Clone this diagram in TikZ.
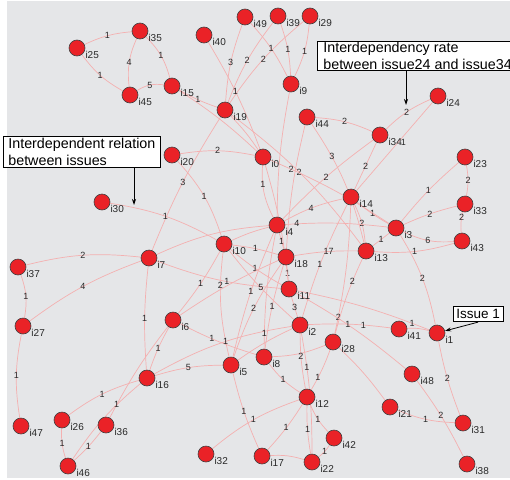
\documentclass[tikz,border=0pt]{standalone}
\usepackage{fontspec}
\setmainfont{Liberation Sans}
\usetikzlibrary{arrows.meta}
\definecolor{bgc}{RGB}{229,230,232}
\definecolor{nodered}{RGB}{234,34,39}
\definecolor{edgepink}{RGB}{244,176,176}
\definecolor{txt}{RGB}{40,40,40}
\pgfdeclarelayer{bglayer}
\pgfdeclarelayer{edgelayer}
\pgfsetlayers{bglayer,edgelayer,main}
\tikzset{
 iss/.style={circle, fill=nodered, draw=black!75, line width=0.6pt, minimum size=16pt, inner sep=0pt},
 nl/.style={font=\fontsize{10}{10}\selectfont, text=txt, inner sep=0.5pt},
 edge/.style={draw=edgepink, line width=0.7pt},
 el/.style={font=\fontsize{9}{9}\selectfont, text=txt, inner sep=0pt},
 callout/.style={draw=black, fill=white, line width=0.7pt, align=left, anchor=north west},
 pointer/.style={-{Stealth[length=6pt,width=4pt]}, line width=0.8pt, draw=black},
}
\newcommand\issnode[3]{\node[iss,label={[nl,label distance=0pt]-20:#1}] (#1) at (#2,#3) {};}
\newcommand\ed[5]{\draw[edge] (#1) to[#3] node[el,pos=#5]{#4} (#2);}
\begin{document}
\begin{tikzpicture}[x=1pt,y=-1pt]
\useasboundingbox (0,0) rectangle (510,479);
\clip (0,0) rectangle (510,479);
\begin{pgfonlayer}{bglayer}
\fill[bgc] (7,1) rectangle (510,478);
\end{pgfonlayer}
\issnode{i25}{77}{48}
\issnode{i35}{140}{31}
\issnode{i40}{204}{35}
\issnode{i49}{245}{17}
\issnode{i39}{278}{16}
\issnode{i29}{310}{16}
\issnode{i45}{130}{95}
\issnode{i15}{172}{86}
\issnode{i19}{225}{110}
\issnode{i9}{291}{84}
\issnode{i24}{438}{96}
\issnode{i44}{307}{117}
\issnode{i34}{380}{135}
\issnode{i20}{172}{155}
\issnode{i0}{263}{157}
\issnode{i23}{465}{157}
\issnode{i14}{351}{197}
\issnode{i33}{465}{204}
\issnode{i30}{102}{202}
\issnode{i4}{277}{225}
\issnode{i3}{396}{228}
\issnode{i43}{462}{241}
\issnode{i10}{224}{244}
\issnode{i7}{149}{258}
\issnode{i18}{286}{257}
\issnode{i13}{366}{251}
\issnode{i37}{18}{267}
\issnode{i11}{289}{289}
\issnode{i6}{173}{320}
\issnode{i27}{23}{326}
\issnode{i2}{300}{325}
\issnode{i41}{399}{329}
\issnode{i1}{437}{333}
\issnode{i28}{333}{342}
\issnode{i8}{264}{357}
\issnode{i5}{231}{365}
\issnode{i16}{147}{378}
\issnode{i48}{412}{374}
\issnode{i12}{307}{397}
\issnode{i21}{390}{407}
\issnode{i31}{463}{423}
\issnode{i26}{62}{420}
\issnode{i36}{106}{425}
\issnode{i47}{21}{426}
\issnode{i42}{334}{438}
\issnode{i46}{68}{466}
\issnode{i32}{206}{454}
\issnode{i17}{262}{456}
\issnode{i22}{312}{462}
\issnode{i38}{467}{464}
\begin{pgfonlayer}{edgelayer}
\ed{i25}{i35}{bend left=10}{1}{.5}
\ed{i25}{i45}{bend right=12}{1}{.5}
\ed{i35}{i45}{bend right=15}{4}{.5}
\ed{i35}{i15}{bend left=15}{1}{.5}
\ed{i45}{i15}{bend left=20}{5}{.5}
\ed{i15}{i19}{bend right=5}{1}{.5}
\ed{i15}{i0}{bend left=5}{}{.5}
\ed{i49}{i19}{bend right=8}{3}{.5}
\ed{i39}{i19}{bend right=8}{2}{.5}
\ed{i29}{i19}{bend right=8}{2}{.5}
\ed{i49}{i9}{bend left=8}{1}{.5}
\ed{i39}{i9}{bend left=8}{1}{.5}
\ed{i29}{i9}{bend left=10}{1}{.5}
\ed{i40}{i0}{bend left=5}{1}{.47}
\ed{i19}{i7}{bend right=5}{3}{.5}
\ed{i19}{i0}{bend left=5}{}{.5}
\ed{i19}{i13}{bend left=8}{2}{.48}
\ed{i20}{i0}{bend left=10}{2}{.5}
\ed{i20}{i10}{bend left=12}{1}{.5}
\ed{i30}{i10}{bend left=10}{1}{.5}
\ed{i7}{i37}{bend right=10}{2}{.5}
\ed{i7}{i27}{bend right=8}{4}{.5}
\ed{i37}{i27}{bend left=15}{1}{.5}
\ed{i27}{i47}{bend right=10}{1}{.5}
\ed{i7}{i4}{bend left=10}{}{.5}
\ed{i7}{i11}{bend right=8}{1}{.58}
\ed{i10}{i5}{bend right=10}{2}{.3}
\ed{i7}{i16}{bend right=5}{1}{.5}
\ed{i10}{i6}{bend left=5}{1}{.5}
\ed{i10}{i18}{bend left=5}{1}{.5}
\ed{i10}{i11}{bend right=5}{1}{.5}
\ed{i10}{i2}{bend right=5}{5}{.52}
\ed{i10}{i4}{bend left=5}{}{.5}
\ed{i6}{i16}{bend right=5}{1}{.5}
\ed{i6}{i8}{bend right=5}{1}{.42}
\ed{i6}{i36}{bend right=5}{}{.5}
\ed{i6}{i18}{bend left=5}{}{.5}
\ed{i16}{i5}{bend left=8}{5}{.5}
\ed{i16}{i2}{bend left=10}{1}{.54}
\ed{i16}{i26}{bend right=10}{1}{.5}
\ed{i16}{i46}{bend right=8}{1}{.3}
\ed{i36}{i46}{bend left=5}{1}{.5}
\ed{i26}{i46}{bend right=10}{1}{.5}
\ed{i5}{i18}{bend left=8}{2}{.5}
\ed{i4}{i5}{bend right=5}{1}{.48}
\ed{i8}{i18}{bend left=5}{1}{.5}
\ed{i8}{i4}{bend left=5}{1}{.12}
\ed{i5}{i17}{bend right=5}{1}{.5}
\ed{i5}{i2}{bend left=5}{}{.5}
\ed{i8}{i12}{bend right=10}{1}{.5}
\ed{i8}{i28}{bend right=10}{}{.5}
\ed{i2}{i12}{bend right=5}{2}{.4}
\ed{i2}{i22}{bend left=5}{1}{.27}
\ed{i12}{i28}{bend right=5}{1}{.3}
\ed{i12}{i42}{bend right=10}{1}{.5}
\ed{i12}{i22}{bend right=5}{1}{.5}
\ed{i42}{i22}{bend left=10}{1}{.5}
\ed{i12}{i17}{bend left=5}{1}{.5}
\ed{i12}{i32}{bend right=10}{1}{.5}
\ed{i17}{i22}{bend left=10}{}{.5}
\ed{i2}{i41}{bend left=5}{1}{.68}
\ed{i11}{i1}{bend left=5}{1}{.88}
\ed{i41}{i1}{bend left=10}{}{.5}
\ed{i14}{i28}{bend left=5}{2}{.88}
\ed{i11}{i48}{bend left=5}{1}{.45}
\ed{i28}{i21}{bend left=5}{}{.5}
\ed{i28}{i13}{bend left=5}{2}{.7}
\ed{i14}{i2}{bend right=5}{1}{.55}
\ed{i13}{i18}{bend right=5}{17}{.45}
\ed{i13}{i43}{bend right=10}{1}{.5}
\ed{i3}{i43}{bend right=15}{6}{.5}
\ed{i3}{i33}{bend left=5}{2}{.5}
\ed{i3}{i23}{bend left=5}{1}{.5}
\ed{i3}{i13}{}{1}{.5}
\ed{i3}{i14}{bend left=5}{1}{.5}
\ed{i14}{i13}{bend left=10}{2}{.5}
\ed{i33}{i23}{bend right=10}{2}{.5}
\ed{i33}{i43}{bend right=10}{2}{.25}
\ed{i3}{i1}{bend left=10}{2}{.5}
\ed{i1}{i31}{bend right=5}{2}{.5}
\ed{i48}{i38}{bend left=5}{2}{.47}
\ed{i21}{i31}{bend right=10}{1}{.5}
\ed{i14}{i34}{}{2}{.5}
\ed{i34}{i24}{bend left=10}{2}{.5}
\ed{i44}{i34}{bend left=10}{2}{.5}
\draw[edge] (i24) -- node[el,pos=.45,xshift=5pt]{1} (i14);
\ed{i44}{i13}{bend left=10}{3}{.28}
\ed{i4}{i34}{bend left=5}{2}{.5}
\ed{i4}{i14}{bend left=8}{4}{.47}
\ed{i4}{i3}{bend left=5}{4}{.1}
\ed{i0}{i4}{bend right=15}{1}{.35}
\ed{i0}{i3}{bend left=5}{2}{.15}
\ed{i9}{i4}{bend right=5}{}{.5}
\ed{i4}{i18}{}{1}{.5}
\ed{i18}{i11}{}{1}{.5}
\ed{i11}{i2}{}{3}{.5}
\ed{i44}{i18}{bend right=5}{}{.5}
\ed{i0}{i11}{bend left=5}{}{.5}
\end{pgfonlayer}
\node[callout, font=\fontsize{14.3}{16.5}\selectfont, inner xsep=5pt, inner ysep=2pt] (c1) at (3,136) {Interdependent relation\\between issues};
\node[callout, font=\fontsize{14.3}{16.5}\selectfont, inner xsep=6pt, inner ysep=1pt] (c2) at (317,41) {Interdependency rate\\between issue24 and issue34};
\node[callout, font=\fontsize{13.5}{14}\selectfont, inner xsep=3pt, inner ysep=3pt] (c3) at (453,306) {Issue 1};
\coordinate (a1) at (134,205);
\coordinate (a2) at (406,105);
\draw[pointer] (c1.south -| a1) -- (a1);
\draw[pointer] (c2.south -| a2) -- (a2);
\draw[pointer] (c3.south) -- (i1);
\end{tikzpicture}
\end{document}
